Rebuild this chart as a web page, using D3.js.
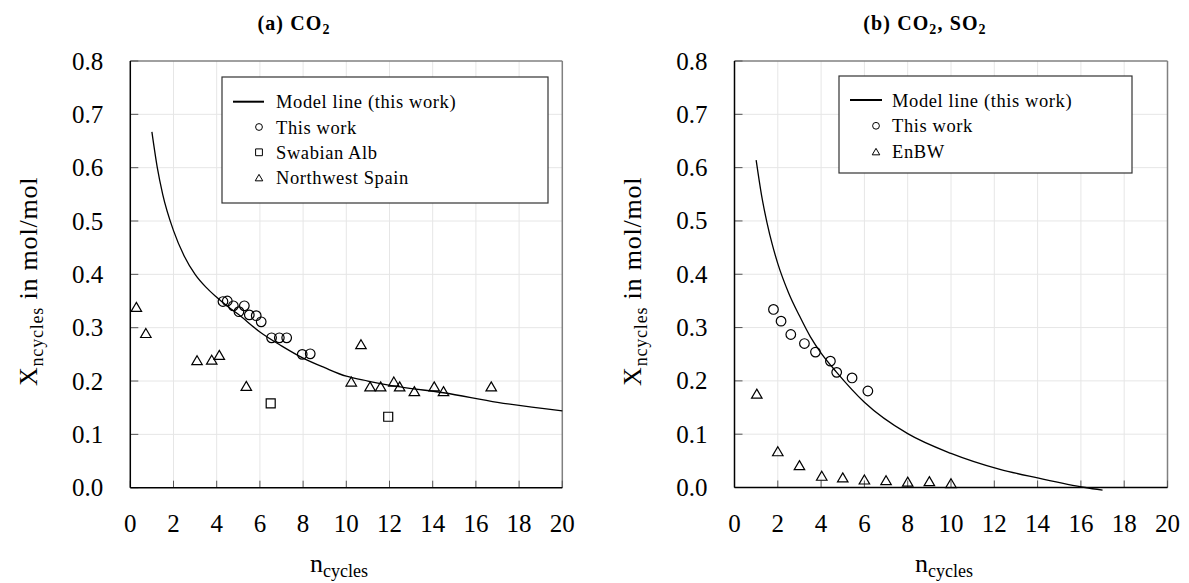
<!DOCTYPE html>
<html>
<head>
<meta charset="utf-8">
<script src="https://cdn.jsdelivr.net/npm/d3@7/dist/d3.min.js"></script>
<style>
  html, body { margin: 0; padding: 0; background: #fff; }
  svg { display: block; }
</style>
</head>
<body>
<svg id="fig" width="1189" height="583" font-family="'Liberation Serif', 'DejaVu Serif', serif"></svg>
<script>
// ---- tick labels ----
const xTickValues = [0, 2, 4, 6, 8, 10, 12, 14, 16, 18, 20];
const yTickValues = [0.0, 0.1, 0.2, 0.3, 0.4, 0.5, 0.6, 0.7, 0.8];

// ---- panel (a): CO2 ----
const modelA = [[1, 0.667], [1.25, 0.6], [1.5, 0.55], [2, 0.482], [2.5, 0.434], [3, 0.4],
  [3.5, 0.376], [4, 0.357], [4.5, 0.34], [5, 0.325], [6, 0.292], [7, 0.266], [8, 0.243],
  [9, 0.225], [10, 0.209], [11, 0.2], [12.5, 0.189], [14.5, 0.178], [17, 0.16], [20, 0.144]];
const thisWorkA = [[4.29, 0.349], [4.49, 0.35], [4.77, 0.341], [5.03, 0.33], [5.28, 0.341],
  [5.51, 0.324], [5.83, 0.3225], [6.06, 0.311], [6.54, 0.281], [6.9, 0.281], [7.24, 0.281],
  [7.96, 0.25], [8.33, 0.251]];
const swabianAlb = [[6.5, 0.158], [11.94, 0.133]];
const northwestSpain = [[0.28, 0.339], [0.72, 0.29], [3.09, 0.239], [3.77, 0.24], [4.12, 0.249],
  [5.37, 0.191], [10.23, 0.199], [10.68, 0.269], [11.1, 0.19], [11.59, 0.19], [12.2, 0.199],
  [12.47, 0.19], [13.15, 0.181], [14.07, 0.19], [14.5, 0.181], [16.71, 0.19]];

// ---- panel (b): CO2, SO2 ----
const modelB = [[1, 0.614], [1.25, 0.548], [1.5, 0.497], [1.75, 0.455], [2, 0.42], [2.5, 0.365],
  [3, 0.322], [3.5, 0.283], [4, 0.252], [4.7, 0.217], [6, 0.16], [8, 0.101], [10, 0.064],
  [12.26, 0.034], [14, 0.018], [16.2, 0.0], [17, -0.005]];
const thisWorkB = [[1.8, 0.334], [2.15, 0.312], [2.6, 0.287], [3.23, 0.27], [3.74, 0.254],
  [4.43, 0.237], [4.72, 0.216], [5.43, 0.2055], [6.16, 0.181]];
const enbw = [[1.03, 0.176], [2.0, 0.068], [3.0, 0.042], [4.03, 0.022], [5.0, 0.019],
  [6.0, 0.015], [7.0, 0.0137], [8.0, 0.011], [9.0, 0.012], [10.0, 0.008]];

const svg = d3.select("#fig");
svg.append("rect").attr("width", 1189).attr("height", 583).attr("fill", "#fff");

// marker path generators (centred at 0,0)
function markerPath(type, s) {
  if (type === "circle") {
    return `M${s},0A${s},${s} 0 1,1 ${-s},0A${s},${s} 0 1,1 ${s},0Z`;
  }
  if (type === "square") {
    return `M${-s},${-s}H${s}V${s}H${-s}Z`;
  }
  // triangle
  const h = s * 1.8, w = s * 1.05;
  return `M0,${-h / 2}L${w},${h / 2}L${-w},${h / 2}Z`;
}

function panel(cfg) {
  const x = d3.scaleLinear().domain([0, 20]).range([cfg.left, cfg.right]);
  const y = d3.scaleLinear().domain([0, 0.8]).range([cfg.bottom, cfg.top]);
  const g = svg.append("g");

  // grid
  g.append("g").selectAll("line").data(xTickValues.slice(1, -1)).join("line")
    .attr("x1", d => x(d)).attr("x2", d => x(d))
    .attr("y1", cfg.top).attr("y2", cfg.bottom)
    .attr("stroke", "#e6e6e6").attr("stroke-width", 1);
  g.append("g").selectAll("line").data(yTickValues.slice(1, -1)).join("line")
    .attr("y1", d => y(d)).attr("y2", d => y(d))
    .attr("x1", cfg.left).attr("x2", cfg.right)
    .attr("stroke", "#e6e6e6").attr("stroke-width", 1);

  // frame: top/right grey, left/bottom black
  g.append("line").attr("x1", cfg.left).attr("x2", cfg.right).attr("y1", cfg.top).attr("y2", cfg.top)
    .attr("stroke", "#808080").attr("stroke-width", 1.5);
  g.append("line").attr("x1", cfg.right).attr("x2", cfg.right).attr("y1", cfg.top).attr("y2", cfg.bottom)
    .attr("stroke", "#808080").attr("stroke-width", 1.5);

  // inward ticks
  g.append("g").selectAll("line").data(yTickValues).join("line")
    .attr("x1", cfg.left).attr("x2", cfg.left + 8)
    .attr("y1", d => y(d)).attr("y2", d => y(d))
    .attr("stroke", "#555").attr("stroke-width", 1);
  g.append("g").selectAll("line").data(xTickValues).join("line")
    .attr("x1", d => x(d)).attr("x2", d => x(d))
    .attr("y1", cfg.bottom).attr("y2", cfg.bottom - 7)
    .attr("stroke", "#555").attr("stroke-width", 1);

  g.append("line").attr("x1", cfg.left).attr("x2", cfg.left).attr("y1", cfg.top).attr("y2", cfg.bottom)
    .attr("stroke", "#000").attr("stroke-width", 1.5);
  g.append("line").attr("x1", cfg.left).attr("x2", cfg.right).attr("y1", cfg.bottom).attr("y2", cfg.bottom)
    .attr("stroke", "#000").attr("stroke-width", 1.5);

  // tick labels
  g.append("g").selectAll("text").data(yTickValues).join("text")
    .attr("x", cfg.left - 27).attr("y", d => y(d) + 8.5)
    .attr("text-anchor", "end").attr("font-size", 25)
    .text(d => d.toFixed(1));
  g.append("g").selectAll("text").data(xTickValues).join("text")
    .attr("x", d => x(d)).attr("y", cfg.bottom + 44)
    .attr("text-anchor", "middle").attr("font-size", 25)
    .text(d => d);

  // model line
  const line = d3.line().x(d => x(d[0])).y(d => y(d[1])).curve(d3.curveMonotoneX);
  g.append("path").datum(cfg.model).attr("d", line)
    .attr("fill", "none").attr("stroke", "#000").attr("stroke-width", 1.3);

  // data markers
  cfg.series.forEach(s => {
    g.append("g").selectAll("path").data(s.data).join("path")
      .attr("transform", d => `translate(${x(d[0])},${y(d[1])})`)
      .attr("d", markerPath(s.type, s.size))
      .attr("fill", "none").attr("stroke", "#000").attr("stroke-width", 1.2);
  });

  // legend
  const L = cfg.legend;
  g.append("rect").attr("x", L.x).attr("y", L.y).attr("width", L.w).attr("height", L.h)
    .attr("fill", "#fff").attr("stroke", "#333").attr("stroke-width", 1.2);
  L.rows.forEach((r, i) => {
    const cy = L.y0 + i * L.dy;
    if (r.type === "line") {
      g.append("line").attr("x1", L.lineX0).attr("x2", L.lineX1).attr("y1", cy).attr("y2", cy)
        .attr("stroke", "#000").attr("stroke-width", 2);
    } else {
      g.append("path").attr("transform", `translate(${L.markX},${cy})`)
        .attr("d", markerPath(r.type, r.type === "triangle" ? 3.6 : 3.4))
        .attr("fill", "none").attr("stroke", "#000").attr("stroke-width", 1);
    }
    g.append("text").attr("x", L.textX).attr("y", cy + 6.5)
      .attr("font-size", 18.5).attr("letter-spacing", 0.6).text(r.label);
  });

  // panel title
  const t = g.append("text").attr("x", cfg.titleX).attr("y", 30)
    .attr("text-anchor", "middle").attr("font-size", 20).attr("font-weight", "bold")
    .attr("letter-spacing", 1.1);
  cfg.title.forEach(p => {
    t.append("tspan").attr("font-size", p.sub ? 14 : 20)
      .attr("dy", p.sub ? 4 : (p.up ? -4 : 0)).text(p.t);
  });

  // x axis title
  const xt = g.append("text").attr("x", cfg.xTitleX).attr("y", 572)
    .attr("text-anchor", "middle").attr("font-size", 26);
  xt.append("tspan").text("n");
  xt.append("tspan").attr("font-size", 18).attr("dy", 5).text("cycles");

  // y axis title
  const yt = g.append("text")
    .attr("transform", `translate(${cfg.yTitleX},${(cfg.top + cfg.bottom) / 2 + 7}) rotate(-90)`)
    .attr("text-anchor", "middle").attr("font-size", 26).attr("letter-spacing", 0.8);
  yt.append("tspan").text("X");
  yt.append("tspan").attr("font-size", 18).attr("dy", 6).text("ncycles");
  yt.append("tspan").attr("dy", -6).text(" in mol/mol");
}

panel({
  left: 130.3, right: 562.3, top: 61, bottom: 487.7,
  model: modelA,
  series: [
    { type: "circle", size: 4.8, data: thisWorkA },
    { type: "square", size: 4.5, data: swabianAlb },
    { type: "triangle", size: 5.0, data: northwestSpain }
  ],
  legend: {
    x: 222, y: 77, w: 326, h: 126, y0: 101.7, dy: 25.3,
    lineX0: 233, lineX1: 264, markX: 259, textX: 276,
    rows: [
      { type: "line", label: "Model line (this work)" },
      { type: "circle", label: "This work" },
      { type: "square", label: "Swabian Alb" },
      { type: "triangle", label: "Northwest Spain" }
    ]
  },
  titleX: 294,
  title: [{ t: "(a) CO" }, { t: "2", sub: true }],
  xTitleX: 339, yTitleX: 37
});

panel({
  left: 734.5, right: 1167.5, top: 61, bottom: 487.5,
  model: modelB,
  series: [
    { type: "circle", size: 4.8, data: thisWorkB },
    { type: "triangle", size: 5.0, data: enbw }
  ],
  legend: {
    x: 839, y: 76, w: 293, h: 97, y0: 100, dy: 25.8,
    lineX0: 850, lineX1: 882, markX: 876, textX: 892,
    rows: [
      { type: "line", label: "Model line (this work)" },
      { type: "circle", label: "This work" },
      { type: "triangle", label: "EnBW" }
    ]
  },
  titleX: 925,
  title: [{ t: "(b) CO" }, { t: "2", sub: true }, { t: ", SO", up: true }, { t: "2", sub: true }],
  xTitleX: 944, yTitleX: 641
});
</script>
</body>
</html>
